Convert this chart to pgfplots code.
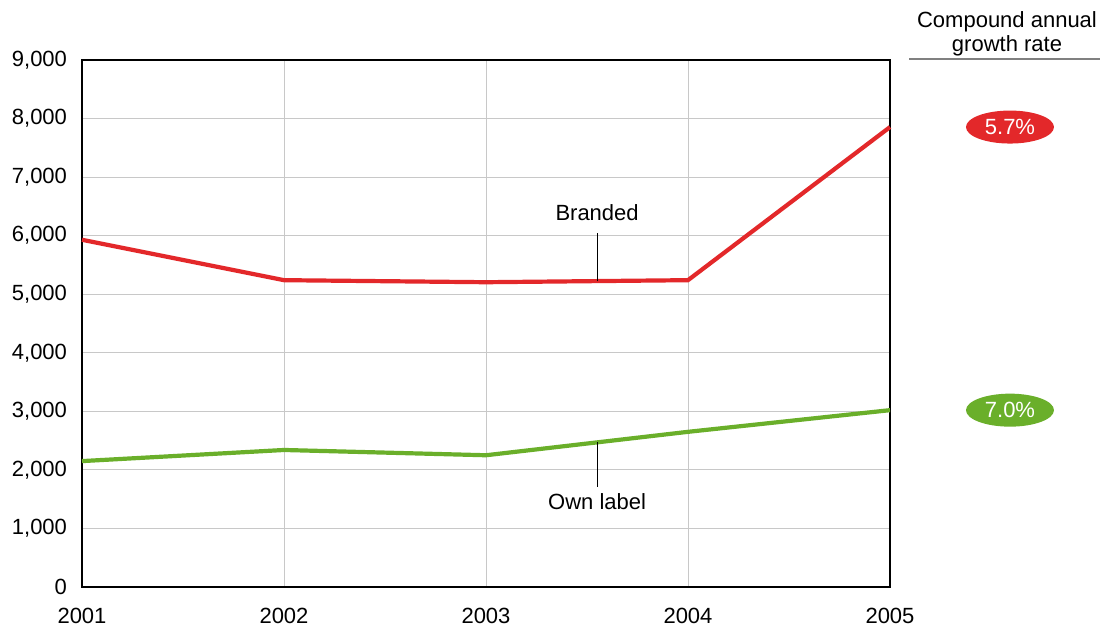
\documentclass[border=0pt]{standalone}
\usepackage{fontspec}
\setmainfont{Liberation Sans}
\usepackage{pgfplots}
\pgfplotsset{compat=1.18}
\usetikzlibrary{shapes.geometric}
\definecolor{bred}{HTML}{E3282A}
\definecolor{olgreen}{HTML}{6AAF2A}
\definecolor{gridgray}{HTML}{C8C8C8}
\begin{document}
\begin{tikzpicture}
\path[use as bounding box] (0,0) rectangle (550bp,313.5bp);
\begin{axis}[
  at={(41bp,20bp)}, anchor=south west,
  scale only axis, width=404bp, height=263.5bp,
  xmin=2001, xmax=2005, ymin=0, ymax=9000,
  xtick={2001,2002,2003,2004,2005},
  ytick={0,1000,...,9000},
  grid=major,
  major grid style={gridgray, line width=0.5bp},
  major tick length=0pt,
  axis line style={black, line width=0.6bp},
  clip=false,
  font=\fontsize{11bp}{13bp}\selectfont,
  /pgf/number format/assume math mode=true,
  xticklabel style={/pgf/number format/1000 sep={}, yshift=-7bp},
  yticklabel style={/pgf/number format/1000 sep={,}, xshift=-4bp},
]
\addplot[bred, line width=2.1bp] coordinates {
  (2001,5930) (2002,5240) (2003,5205) (2004,5240) (2005,7855)};
\addplot[olgreen, line width=2.1bp] coordinates {
  (2001,2150) (2002,2340) (2003,2250) (2004,2650) (2005,3020)};
\draw[black, line width=1.1bp] (axis cs:2001,0) -- (axis cs:2005,0);
% annotations
\draw[black, line width=0.4bp] (axis cs:2003.55,5220) -- (axis cs:2003.55,6050);
\node[font=\fontsize{11bp}{13bp}\selectfont] at (axis cs:2003.55,6390) {Branded};
\draw[black, line width=0.4bp] (axis cs:2003.55,2470) -- (axis cs:2003.55,1700);
\node[font=\fontsize{11bp}{13bp}\selectfont] at (axis cs:2003.55,1450) {Own label};
\node[ellipse, fill=bred, text=white, minimum width=44bp, minimum height=16.5bp, inner sep=0pt,
  font=\fontsize{11bp}{13bp}\selectfont] at (axis cs:2005.594,7855) {5.7\%};
\node[ellipse, fill=olgreen, text=white, minimum width=44bp, minimum height=16.5bp, inner sep=0pt,
  font=\fontsize{11bp}{13bp}\selectfont] at (axis cs:2005.594,3020) {7.0\%};
\end{axis}
\node[align=center, font=\fontsize{11bp}{12bp}\selectfont, anchor=south] at (503.5bp,282bp) {Compound annual\\growth rate};
\draw[gray, line width=0.6bp] (454.5bp,284bp) -- (550bp,284bp);
\end{tikzpicture}
\end{document}
